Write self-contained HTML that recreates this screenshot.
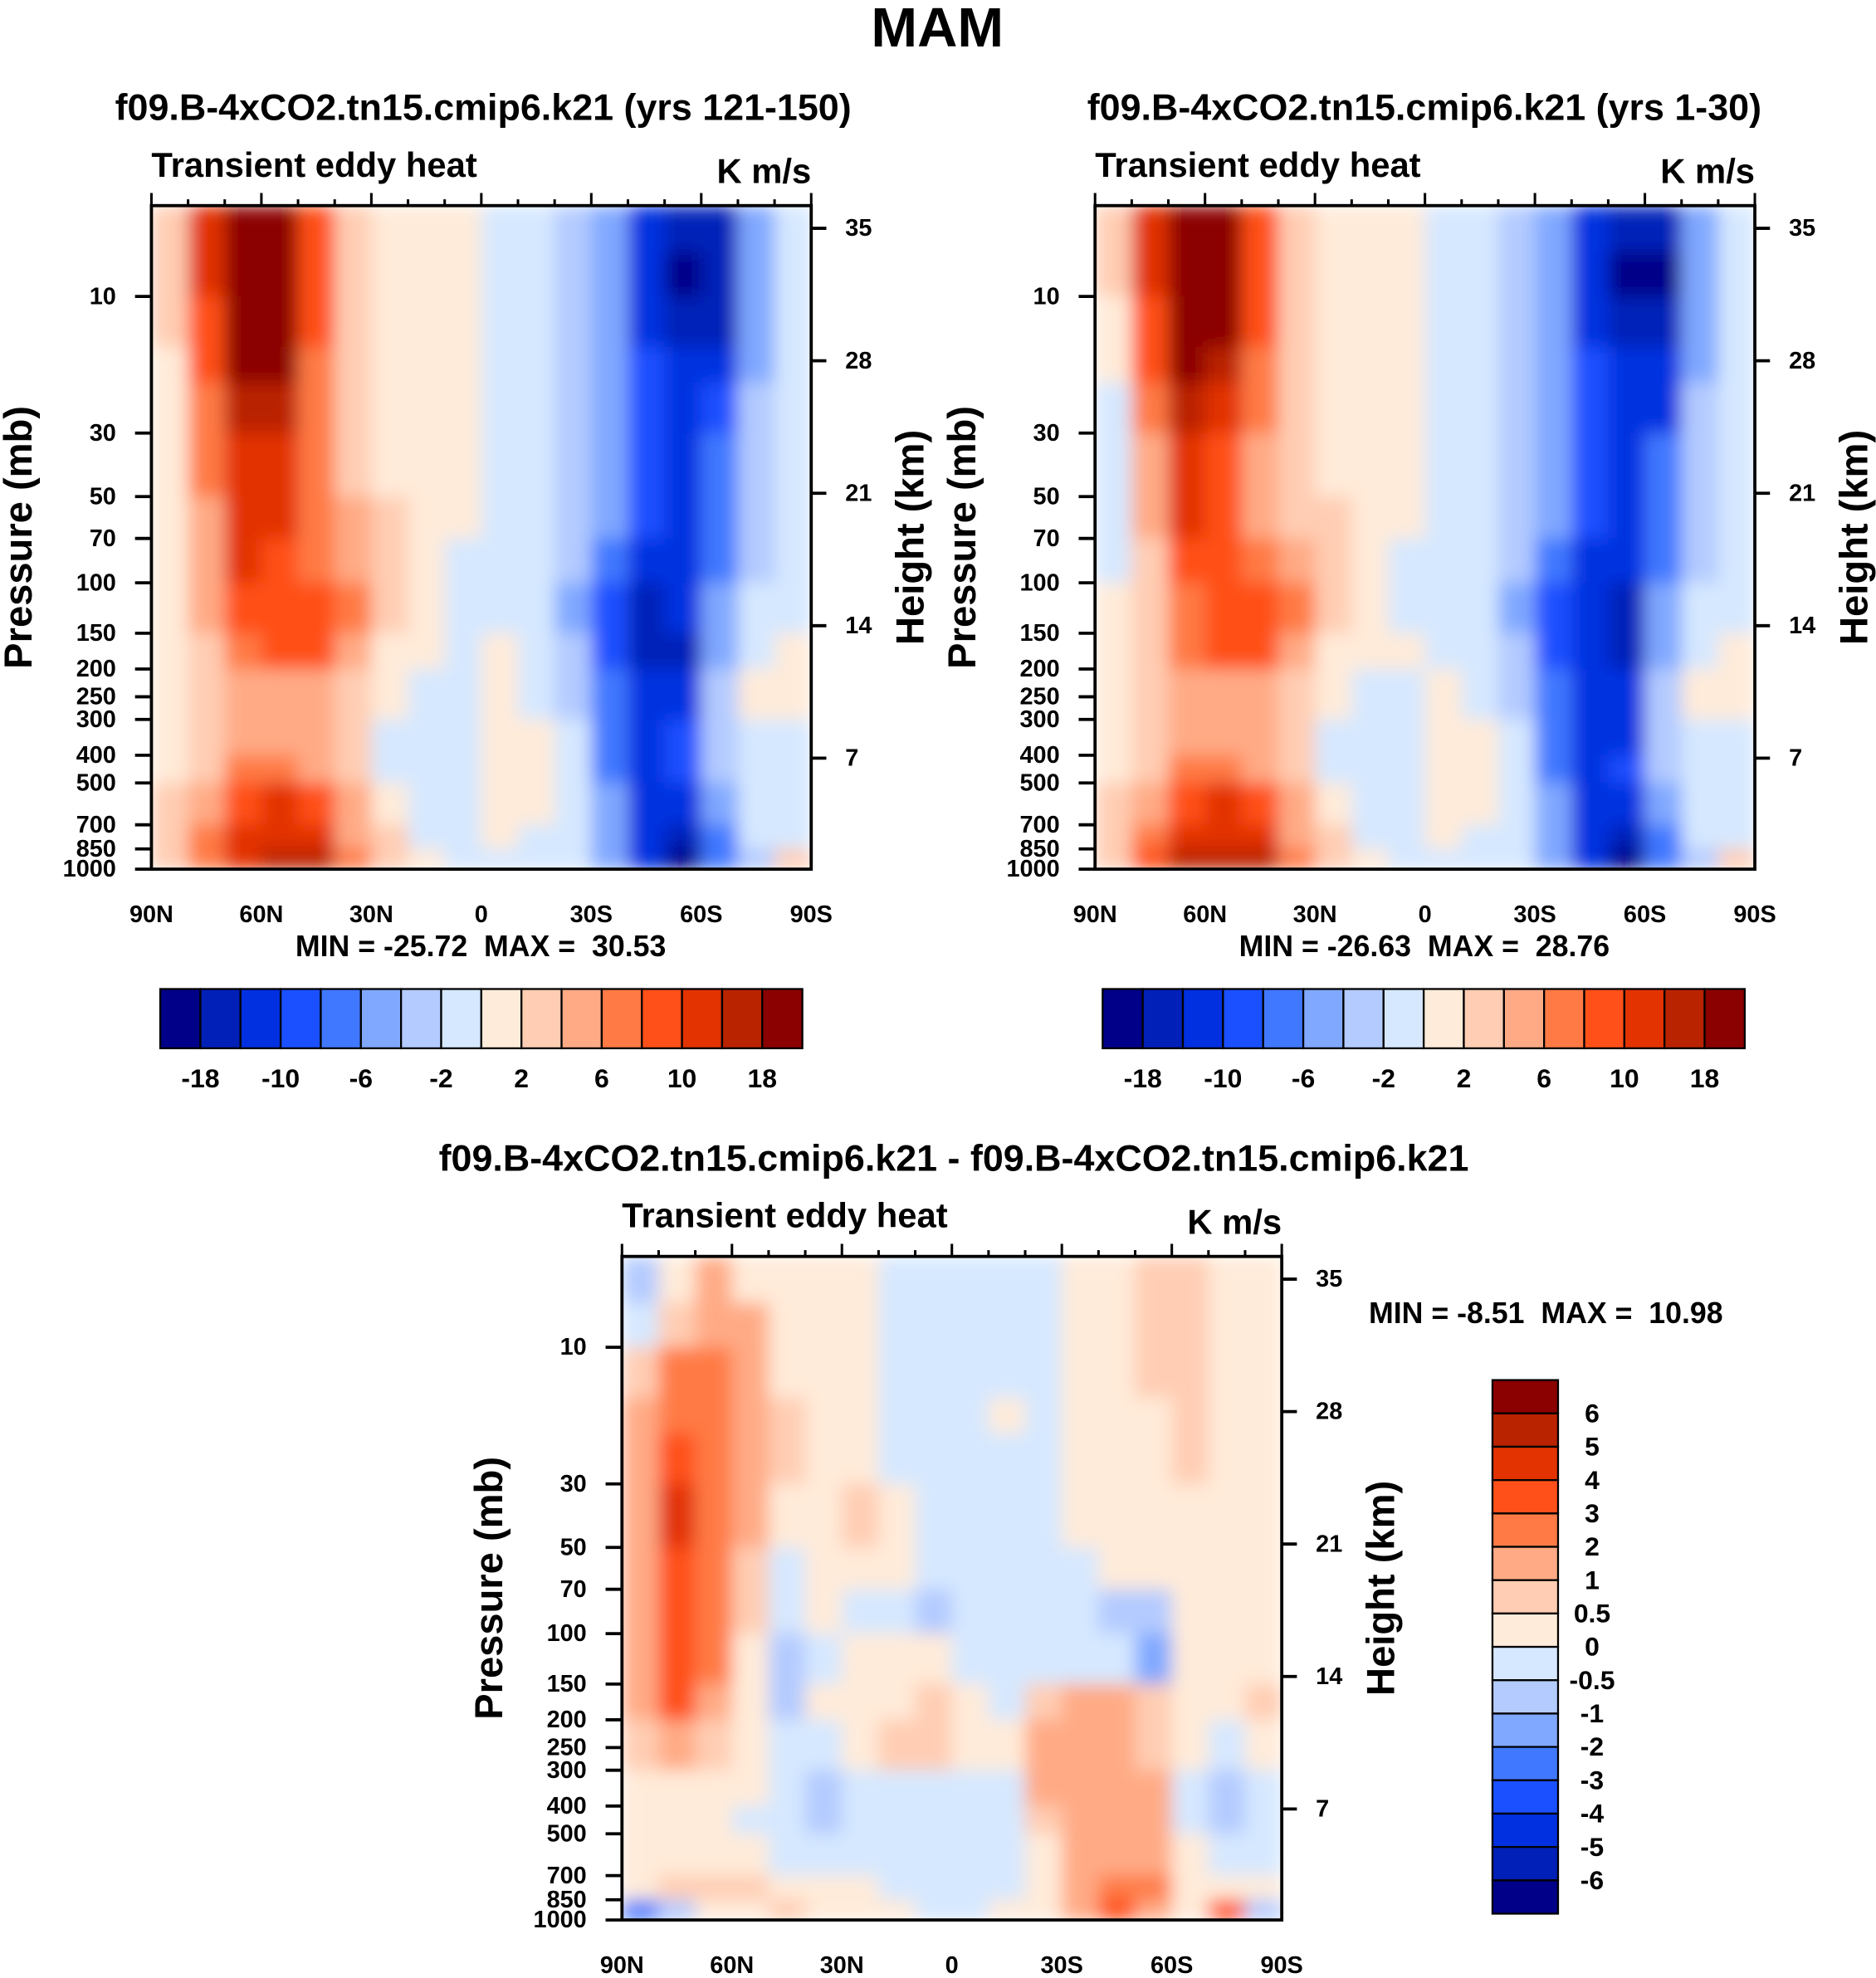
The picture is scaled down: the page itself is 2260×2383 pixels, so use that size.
<!DOCTYPE html>
<html><head><meta charset="utf-8">
<style>
html,body{margin:0;padding:0;background:#fff;}
svg{display:block;font-family:"Liberation Sans",Arial,sans-serif;font-weight:bold;}
text{white-space:pre;}
</style></head>
<body>
<svg id="root" xmlns="http://www.w3.org/2000/svg" width="2260" height="2383" viewBox="0 0 1487 1568">
<defs>
<filter id="soft" x="0" y="0" width="1" height="1"><feGaussianBlur stdDeviation="7" edgeMode="duplicate"/></filter>
</defs>
<rect width="1487" height="1568" fill="#fff"/>
<text x="743" y="37" font-size="44" text-anchor="middle">MAM</text>
<text x="383" y="95" font-size="29.5" text-anchor="middle">f09.B-4xCO2.tn15.cmip6.k21 (yrs 121-150)</text>
<text x="1129" y="95" font-size="29.5" text-anchor="middle">f09.B-4xCO2.tn15.cmip6.k21 (yrs 1-30)</text>
<text x="756" y="928" font-size="29.5" text-anchor="middle">f09.B-4xCO2.tn15.cmip6.k21 - f09.B-4xCO2.tn15.cmip6.k21</text>
<g id="panels"></g>
</svg>
<script>
// ---- data ----
const latLabels = ["90N","60N","30N","0","30S","60S","90S"];
const latTickDeg = [90,60,30,0,-30,-60,-90];
const presTicks = [10,30,50,70,100,150,200,250,300,400,500,700,850,1000];
const heightTicks = [7,14,21,28,35];
const latCenters = [85,75,65,55,45,35,25,15,5,-5,-15,-25,-35,-45,-55,-65,-75,-85];
const presEdges = [4.82,7,10,15,20,30,50,70,100,150,200,300,400,500,700,850,1000];
const boundsAbs = [-18,-14,-10,-8,-6,-4,-2,0,2,4,6,8,10,14,18];
const boundsAbsLabels = ["-18","-10","-6","-2","2","6","10","18"];
const boundsDiff = [-6,-5,-4,-3,-2,-1,-0.5,0,0.5,1,2,3,4,5,6];
const boundsDiffLabels = ["-6","-5","-4","-3","-2","-1","-0.5","0","0.5","1","2","3","4","5","6"];
const palette = ["#000088","#0020b8","#0030e0","#1a50ff","#4078ff","#80a8ff","#b3cbff","#d6e8ff","#ffebd9","#ffcdb3","#ffaa85","#ff7a45","#ff5019","#e23300","#b92300","#8b0000"];

const field1 = [
[2,10,22,22,8,2,1,1,1,-1,-1,-3,-6,-12,-18,-16,-6,-2],
[2,10,24,24,8,2,1,1,1,-1,-1,-3,-6,-12,-20,-18,-6,-2],
[2,9,24,22,8,2,1,1,1,-1,-1,-3,-6,-12,-18,-16,-6,-2],
[1,8,20,18,7,2,1,1,0.5,-1,-1,-3,-6,-10,-14,-12,-5,-2],
[1,7,16,14,6,3,1,1,0.5,-1,-1,-3,-6,-10,-14,-10,-4,-1],
[1,6,12,11,6,3,1,1,0.5,-1,-1,-3,-6,-10,-12,-8,-4,-1],
[1,5,11,10,6,4,2,1,0.5,-1,-1,-3,-6,-10,-12,-8,-3,-1],
[1,5,10,9,7,4,2,0.5,-1,-1,-1,-4,-8,-12,-12,-7,-3,-1],
[1,4,8,9,9,6,2,0.5,-1,-1,-1,-5,-10,-16,-14,-6,-2,-1],
[1,3,6,8,8,5,1,0.5,-1,1,-1,-4,-9,-16,-16,-6,-2,1],
[1,3,4,4,4,3,1,-1,-1,1,-1,-3,-8,-14,-12,-4,1,1],
[1,3,4,4,4,2,-1,-1,-1,1,1,-2,-8,-12,-10,-4,-1,-1],
[1,3,6,6,5,3,-1,-1,-1,1,1,-2,-8,-12,-10,-4,-2,-1],
[2,5,9,10,8,4,1,-1,-1,1,1,-2,-6,-12,-12,-6,-2,-1],
[2,6,10,12,10,5,2,-1,-1,1,-1,-2,-6,-14,-16,-8,-2,-1],
[2,6,12,16,14,6,2,1,-1,-1,-1,-2,-6,-14,-20,-8,-3,2]];
const field2 = [
[2,10,22,22,8,2,1,1,1,-1,-1,-3,-6,-12,-18,-18,-6,-2],
[2,10,24,24,8,2,1,1,1,-1,-1,-3,-6,-12,-20,-20,-6,-2],
[1,9,24,22,8,2,1,1,1,-1,-1,-3,-6,-12,-18,-18,-6,-2],
[1,8,20,16,6,2,1,1,0.5,-1,-1,-3,-6,-10,-14,-14,-5,-2],
[-1,6,14,12,6,3,1,1,0.5,-1,-1,-3,-6,-10,-14,-12,-4,-1],
[-1,4,10,9,5,3,1,1,0.5,-1,-1,-3,-6,-10,-12,-8,-4,-1],
[-1,4,10,9,5,3,2,1,0.5,-1,-1,-3,-6,-10,-12,-8,-3,-1],
[-1,3,8,8,6,4,2,0.5,-1,-1,-1,-4,-8,-12,-12,-7,-3,-1],
[1,3,6,8,9,6,2,0.5,-1,-1,-1,-5,-10,-14,-16,-6,-2,-1],
[1,3,6,8,8,5,1,0.5,1,-1,-1,-4,-9,-14,-16,-6,-2,1],
[1,3,4,4,4,3,1,-1,-1,1,-1,-3,-8,-12,-14,-4,1,1],
[1,3,4,4,4,2,-1,-1,-1,1,1,-2,-8,-12,-12,-4,-1,-1],
[1,3,6,6,5,3,-1,-1,-1,1,1,-2,-8,-12,-10,-4,-2,-1],
[2,5,9,10,8,4,1,-1,-1,1,1,-2,-6,-12,-12,-6,-2,-1],
[2,6,10,12,10,5,2,-1,-1,1,-1,-2,-6,-14,-16,-8,-2,-1],
[2,8,14,14,14,6,2,1,-1,-1,-1,-2,-6,-14,-20,-8,-3,2]];
const field3 = [
[-1,0.3,1,0.3,0.3,0.3,0.3,-0.3,-0.3,-0.3,-0.3,-0.3,0.3,0.3,0.7,0.7,0.3,0.3],
[-0.3,0.7,1.5,1.5,0.3,0.3,0.3,-0.3,-0.3,-0.3,-0.3,-0.3,0.3,0.3,0.7,0.7,0.3,0.3],
[0.7,2,2.5,1.5,0.3,0.3,0.3,-0.3,-0.3,-0.3,-0.3,-0.3,0.3,0.3,0.7,0.7,0.3,0.3],
[1,2.5,2.5,1.5,0.7,0.3,0.3,-0.3,-0.3,-0.3,0.3,-0.3,0.3,0.3,0.3,0.7,0.3,0.3],
[1.5,3.5,2.5,1,0.7,0.3,0.3,-0.3,-0.3,-0.3,-0.3,-0.3,0.3,0.3,0.3,0.7,0.3,0.3],
[1.5,4,2.5,1,0.3,0.3,0.7,0.3,-0.3,-0.3,-0.3,-0.3,0.3,0.3,0.3,0.3,0.3,0.3],
[1.5,3.5,2,0.7,-0.3,0.3,0.3,0.3,-0.3,-0.3,-0.3,-0.3,-0.3,0.3,0.3,0.3,0.3,0.3],
[1.5,3.5,2,0.7,-0.3,0.3,-0.3,-0.3,-0.7,-0.3,-0.3,-0.3,-0.3,-0.7,-0.7,0.3,0.3,0.3],
[1.5,3,2,0.3,-0.7,-0.3,0.3,0.3,0.3,-0.3,-0.3,-0.3,-0.3,-0.3,-1.5,0.3,0.3,0.3],
[1,3,1.5,0.3,-0.7,0.3,0.3,0.3,0.7,0.3,-0.3,0.7,1,1,0.7,0.3,0.3,0.7],
[0.7,1,0.7,0.3,-0.3,-0.3,0.3,0.7,0.7,0.3,0.3,1,1.5,1.5,0.7,0.3,-0.3,0.3],
[0.3,0.3,0.3,0.3,-0.3,-0.7,-0.3,-0.3,-0.3,-0.3,-0.3,1,1.5,1.5,1,-0.3,-0.7,-0.3],
[0.3,0.3,0.3,-0.3,-0.3,-0.7,-0.3,-0.3,-0.3,-0.3,-0.3,0.7,1.5,1.5,1,-0.3,-0.7,-0.3],
[0.3,0.3,0.3,0.3,-0.3,-0.3,-0.3,-0.3,-0.3,-0.3,-0.3,0.3,1,1.5,1,0.3,-0.3,-0.3],
[0.3,0.7,0.7,0.7,0.3,0.3,0.3,-0.3,-0.3,-0.3,-0.3,0.3,1,2,2,0.3,0.3,0.3],
[-3,-1,0.3,0.3,0.7,0.3,0.3,0.3,-0.3,-0.3,0.3,0.3,1,3,1,0.3,3,-0.7]];
const minmax1 = ["-25.72","30.53"];
const minmax2 = ["-26.63","28.76"];
const minmax3 = ["-8.51","10.98"];

// ---- drawing ----
const NS="http://www.w3.org/2000/svg";
const G=document.getElementById('panels');
const DEFS=document.querySelector('defs');
function mk(tag,attrs,parent,txt){const e=document.createElementNS(NS,tag);for(const k in attrs)e.setAttribute(k,attrs[k]);if(txt!==undefined)e.textContent=txt;(parent||G).appendChild(e);return e;}
function colorFor(v,b){let i=0;while(i<b.length&&v>=b[i])i++;return palette[i];}
let clipN=0;
function panel(x0,y0,field,bounds,name){
  const W=523,H=526;
  const xs=d=>x0+(90-d)/180*W;
  const ys=p=>y0+H-227*Math.log10(1000/p);
  const g=mk('g',{});
  
  
  const cid='clip'+(clipN++);
  const cp=mk('clipPath',{id:cid},DEFS);
  mk('rect',{x:x0,y:y0,width:W,height:H},cp);
  const outer=mk('g',{'clip-path':`url(#${cid})`},g);
  const cells=mk('g',{filter:'url(#soft)'},outer);
  for(let r=0;r<field.length;r++){
    for(let c=0;c<latCenters.length;c++){
      const la=latCenters[c];
      const xa=xs(la+5),xb=xs(la-5);
      const ya=ys(presEdges[r]),yb=ys(presEdges[r+1]);
      const rc=mk('rect',{x:xa,y:ya,width:xb-xa+0.6,height:yb-ya+0.6,fill:colorFor(field[r][c],bounds)},cells);
      
      
    }
  }
  mk('rect',{x:x0,y:y0,width:W,height:H,fill:'none',stroke:'#000','stroke-width':2.5},g);
  for(let d=90;d>=-90;d-=10){
    const major=d%30===0;
    mk('line',{x1:xs(d),x2:xs(d),y1:y0,y2:y0-(major?10:5),stroke:'#000','stroke-width':2},g);
  }
  latTickDeg.forEach((d,i)=>{
    const t=mk('text',{x:xs(d),y:y0+H+42,'font-size':19,'text-anchor':'middle'},g,latLabels[i]);
    
    
  });
  presTicks.forEach(p=>{
    mk('line',{x1:x0-13,x2:x0,y1:ys(p),y2:ys(p),stroke:'#000','stroke-width':2.5},g);
    const t=mk('text',{x:x0-28,y:ys(p)+6,'font-size':19,'text-anchor':'end'},g,String(p));
    
    
  });
  heightTicks.forEach(h=>{
    const y=y0+H-(15*h-17);
    mk('line',{x1:x0+W,x2:x0+W+12,y1:y,y2:y,stroke:'#000','stroke-width':2.5},g);
    const t=mk('text',{x:x0+W+27,y:y+6,'font-size':19},g,String(h));
    
    
  });
  const a=mk('text',{x:x0,y:y0-23,'font-size':27.5},g,'Transient eddy heat');
  
  
  const b=mk('text',{x:x0+W,y:y0-18,'font-size':27.5,'text-anchor':'end'},g,'K m/s');
  
  
  const yt=mk('text',{transform:`translate(${x0-95},${y0+263}) rotate(-90)`,'font-size':31,'text-anchor':'middle'},g,'Pressure (mb)');
  
  
  const ht=mk('text',{transform:`translate(${x0+W+89},${y0+263}) rotate(-90)`,'font-size':31,'text-anchor':'middle'},g,'Height (km)');
  
  
}
function hbar(x0,y0){
  const w=509/16,g=mk('g',{});
  
  
  palette.forEach((c,i)=>mk('rect',{x:x0+i*w,y:y0,width:w,height:47,fill:c,stroke:'#000','stroke-width':1.5},g));
  boundsAbsLabels.forEach((l,i)=>{
    const t=mk('text',{x:x0+(2*i+1)*w,y:y0+78,'font-size':21,'text-anchor':'middle'},g,l);
    
    
  });
}
function vbar(x0,y0){
  const h=423/16,g=mk('g',{});
  
  
  palette.slice().reverse().forEach((c,i)=>mk('rect',{x:x0,y:y0+i*h,width:52,height:h,fill:c,stroke:'#000','stroke-width':1.5},g));
  boundsDiffLabels.slice().reverse().forEach((l,i)=>{
    const t=mk('text',{x:x0+79,y:y0+(i+1)*h+7,'font-size':21,'text-anchor':'middle'},g,l);
    
    
  });
}
function mmText(x,y,mm,anchor,name){
  const t=mk('text',{x:x,y:y,'font-size':23.5,'text-anchor':anchor},G,`MIN = ${mm[0]}  MAX =  ${mm[1]}`);
  
  
}
panel(120,163,field1,boundsAbs,'panel-yrs-121-150');
panel(868,163,field2,boundsAbs,'panel-yrs-1-30');
panel(493,996,field3,boundsDiff,'panel-difference');
mmText(381,758,minmax1,'middle','minmax-panel1');
mmText(1129,758,minmax2,'middle','minmax-panel2');
mmText(1085,1049,minmax3,'start','minmax-panel3');
hbar(127,784);
hbar(874,784);
vbar(1183,1094);
</script>
</body></html>
